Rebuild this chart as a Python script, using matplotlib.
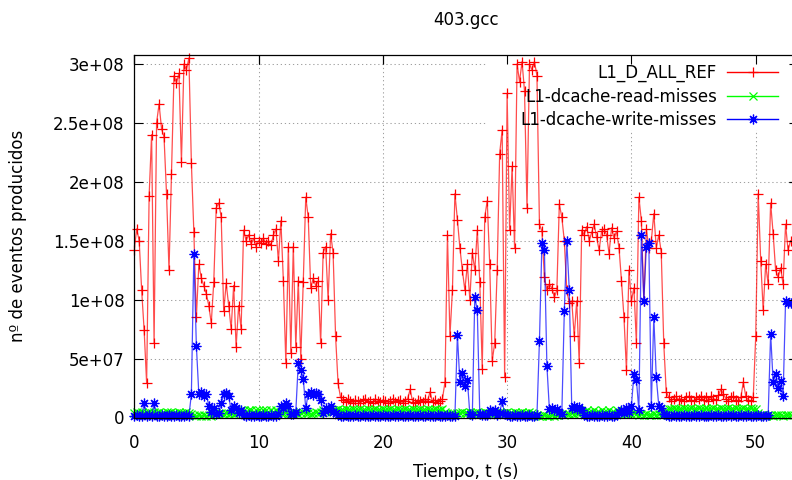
import numpy as np
import matplotlib
matplotlib.use("Agg")
import matplotlib.pyplot as plt
from matplotlib.lines import Line2D
from matplotlib.patches import Rectangle

# ---------------- data (values in millions of events, one sample every 0.2 s) ----------------
sample_interval = 0.2

l1_d_all_ref = [
    142, 160, 150, 108, 74, 29, 188, 240, 63, 250,
    266, 245, 238, 190, 125, 207, 290, 284, 292, 217,
    300, 295, 305, 216, 157, 85, 130, 118, 112, 105,
    95, 80, 115, 178, 182, 170, 90, 114, 95, 75,
    112, 60, 95, 75, 159, 150, 155, 147, 152, 145,
    150, 148, 152, 147, 150, 146, 155, 160, 133, 167,
    116, 46, 145, 55, 145, 60, 116, 50, 115, 187,
    170, 110, 118, 112, 116, 63, 140, 145, 100, 156,
    140, 69, 29, 17, 15, 13, 16, 14, 12, 15,
    14, 12, 15, 16, 13, 14, 12, 16, 14, 13,
    15, 14, 12, 14, 16, 13, 14, 15, 12, 14,
    16, 24, 13, 12, 15, 14, 13, 16, 14, 22,
    13, 15, 12, 14, 16, 30, 155, 69, 108, 190,
    168, 144, 125, 108, 130, 100, 140, 125, 159, 115,
    41, 170, 184, 130, 48, 63, 125, 224, 244, 34,
    275, 159, 213, 144, 300, 285, 302, 277, 178, 300,
    295, 302, 290, 164, 158, 119, 108, 113, 110, 102,
    108, 181, 170, 150, 108, 97, 99, 69, 99, 46,
    159, 155, 162, 150, 157, 164, 153, 142, 158, 160,
    155, 139, 161, 152, 158, 144, 116, 85, 40, 125,
    99, 110, 63, 187, 167, 99, 160, 144, 150, 173,
    144, 155, 140, 63, 22, 17, 14, 16, 18, 15,
    16, 14, 17, 18, 15, 14, 17, 16, 18, 15,
    17, 14, 18, 16, 15, 19, 24, 20, 16, 14,
    17, 18, 15, 14, 17, 30, 18, 15, 14, 17,
    69, 190, 133, 91, 130, 113, 182, 156, 125, 119,
    127, 113, 164, 142, 150,
]

l1_dcache_read_misses = [
    4, 5, 4, 5, 4, 4, 5, 4, 5, 4,
    5, 4, 4, 5, 4, 5, 4, 4, 5, 4,
    4, 5, 4, 3, 2, 1, 2, 1, 2, 1,
    2, 1, 3, 4, 3, 4, 3, 4, 3, 4,
    3, 4, 5, 6, 6, 5, 6, 6, 5, 6,
    6, 5, 6, 6, 5, 6, 5, 6, 5, 4,
    4, 5, 3, 4, 5, 4, 3, 4, 5, 4,
    4, 3, 4, 5, 4, 5, 6, 5, 6, 5,
    6, 6, 7, 6, 6, 7, 6, 6, 7, 6,
    6, 7, 6, 6, 7, 6, 6, 7, 6, 6,
    7, 6, 6, 7, 6, 6, 7, 6, 6, 7,
    6, 6, 7, 6, 6, 7, 6, 6, 7, 6,
    6, 7, 6, 6, 7, 5, 4, 3, 4, 3,
    4, 4, 5, 4, 4, 5, 4, 4, 5, 4,
    4, 5, 4, 4, 5, 4, 4, 5, 4, 4,
    5, 4, 4, 5, 4, 4, 5, 4, 4, 5,
    4, 3, 2, 1, 1, 2, 1, 1, 2, 1,
    2, 3, 3, 2, 3, 3, 4, 3, 4, 4,
    5, 5, 6, 5, 5, 6, 5, 5, 6, 5,
    5, 6, 5, 5, 6, 4, 4, 3, 4, 4,
    3, 4, 3, 2, 3, 2, 3, 2, 2, 3,
    2, 3, 2, 3, 6, 7, 7, 8, 7, 7,
    7, 8, 7, 7, 8, 7, 7, 8, 7, 7,
    8, 7, 7, 8, 7, 7, 8, 7, 7, 8,
    7, 7, 8, 7, 7, 8, 7, 7, 8, 7,
    7, 4, 2, 2, 1, 2, 2, 1, 2, 2,
    2, 1, 2, 2, 2,
]

l1_dcache_write_misses = [
    1, 2, 1, 1, 12, 1, 2, 1, 12, 1,
    1, 2, 1, 1, 2, 1, 1, 2, 1, 1,
    1, 2, 1, 20, 139, 61, 20, 22, 18, 20,
    10, 5, 8, 3, 4, 12, 20, 21, 18, 6,
    10, 8, 4, 6, 2, 1, 2, 1, 1, 2,
    1, 1, 2, 1, 1, 2, 1, 1, 3, 10,
    8, 12, 10, 3, 3, 5, 46, 40, 33, 8,
    20, 22, 19, 21, 20, 15, 4, 8, 6, 10,
    5, 4, 2, 1, 1, 2, 1, 1, 1, 2,
    1, 1, 2, 1, 1, 1, 2, 1, 1, 1,
    2, 1, 1, 1, 2, 1, 1, 2, 1, 1,
    1, 2, 1, 1, 1, 2, 1, 1, 2, 1,
    1, 1, 2, 1, 1, 1, 2, 1, 1, 1,
    70, 30, 38, 27, 32, 3, 2, 102, 91, 3,
    2, 2, 2, 6, 5, 6, 2, 4, 14, 3,
    2, 1, 1, 2, 1, 1, 2, 1, 1, 2,
    1, 1, 2, 65, 148, 142, 44, 7, 8, 6,
    7, 5, 3, 90, 150, 108, 8, 10, 7, 9,
    6, 2, 1, 1, 2, 1, 1, 1, 2, 1,
    1, 2, 1, 1, 2, 5, 6, 4, 8, 5,
    10, 37, 32, 6, 155, 99, 145, 148, 10, 85,
    34, 10, 8, 3, 2, 1, 1, 2, 1, 1,
    1, 2, 1, 1, 1, 2, 1, 1, 2, 1,
    1, 1, 2, 1, 1, 2, 1, 1, 1, 2,
    1, 2, 1, 1, 2, 1, 1, 2, 1, 1,
    1, 2, 1, 1, 1, 2, 71, 30, 37, 25,
    31, 18, 99, 97, 97,
]

series_labels = ["L1_D_ALL_REF", "L1-dcache-read-misses", "L1-dcache-write-misses"]
xtick_values = [0, 10, 20, 30, 40, 50]
ytick_values = [0, 5e7, 1e8, 1.5e8, 2e8, 2.5e8, 3e8]
ytick_labels = ["0", "5e+07", "1e+08", "1.5e+08", "2e+08", "2.5e+08", "3e+08"]
title_text = "403.gcc"
xlabel_text = "Tiempo, t (s)"
ylabel_text = "nº de eventos producidos"

# ---------------- figure ----------------
plt.rcParams["font.family"] = ["DejaVu Sans"]
W, H = 792, 480
fig = plt.figure(figsize=(W / 100, H / 100), dpi=100)

ax_l, ax_r, ax_t, ax_b = 134.2, 797.5, 55.0, 417.5
rect = [ax_l / W, 1 - ax_b / H, (ax_r - ax_l) / W, (ax_b - ax_t) / H]
ax = fig.add_axes(rect)

xmax = 53.36
ymax = 3.076e8
ax.set_xlim(0, xmax)
ax.set_ylim(0, ymax)

ax.set_xticks(xtick_values)
ax.set_yticks(ytick_values, ytick_labels)
ax.tick_params(direction="in", length=6.5, width=0.8, labelsize=12,
               top=True, right=True, colors="black")
ax.tick_params(axis="x", pad=12)
ax.tick_params(axis="y", pad=7)
ax.set_axisbelow(True)
ax.grid(True, color="#a0a0a0", lw=0.75, linestyle=(0, (1.2, 2.7)))
for s in ax.spines.values():
    s.set_linewidth(0.9)
    s.set_color("black")

# opaque key area (hides the grid, not the data)
key_x0 = (487 - ax_l) / (ax_r - ax_l)
key_y0 = (ax_b - 130) / (ax_b - ax_t)
ax.add_patch(Rectangle((key_x0, key_y0), 1 - key_x0, 1 - key_y0, transform=ax.transAxes,
                       facecolor="white", edgecolor="none", zorder=1))

t = np.arange(len(l1_d_all_ref)) * sample_interval
scale = 1e6
styles = [
    (l1_d_all_ref, "#ff0000", "+", 7.0),
    (l1_dcache_read_misses, "#00ff00", "x", 5.5),
    (l1_dcache_write_misses, "#0000ff", (8, 2, 0), 7.0),
]
handles = []
for vals, col, mk, ms in styles:
    y = np.array(vals, dtype=float) * scale
    ax.plot(t, y, color=col, lw=0.9, alpha=0.7, zorder=2)
    ax.plot(t, y, ls="none", marker=mk, ms=ms, mew=0.9, color=col, clip_on=False, zorder=2)
    handles.append(Line2D([], [], color=col, lw=1.0, marker=mk, ms=ms, mew=0.9))

# overlay axes for the mirrored ticks so they sit above the key area
ax2 = fig.add_axes(rect, frameon=False)
ax2.patch.set_alpha(0)
ax2.set_xlim(0, xmax)
ax2.set_ylim(0, ymax)
ax2.set_xticks(xtick_values)
ax2.set_yticks(ytick_values)
ax2.tick_params(direction="in", length=6.5, width=0.8, top=True, right=True,
                bottom=False, left=False, labelbottom=False, labelleft=False)

leg = ax2.legend(handles, series_labels, loc="upper right",
                 bbox_to_anchor=(778 / W, 1 - 64 / H), bbox_transform=fig.transFigure,
                 frameon=False, markerfirst=False, fontsize=12, handlelength=3.06,
                 handletextpad=0.6, labelspacing=0.32, borderpad=0, borderaxespad=0)

fig.text(465.9 / W, 1 - 20 / H, title_text, ha="center", va="center", fontsize=12)
fig.text(465.9 / W, 1 - 472 / H, xlabel_text, ha="center", va="center", fontsize=12)
fig.text(18 / W, 1 - 236 / H, ylabel_text, ha="center", va="center", rotation=90, fontsize=12)

fig.savefig("out.png", dpi=100)
